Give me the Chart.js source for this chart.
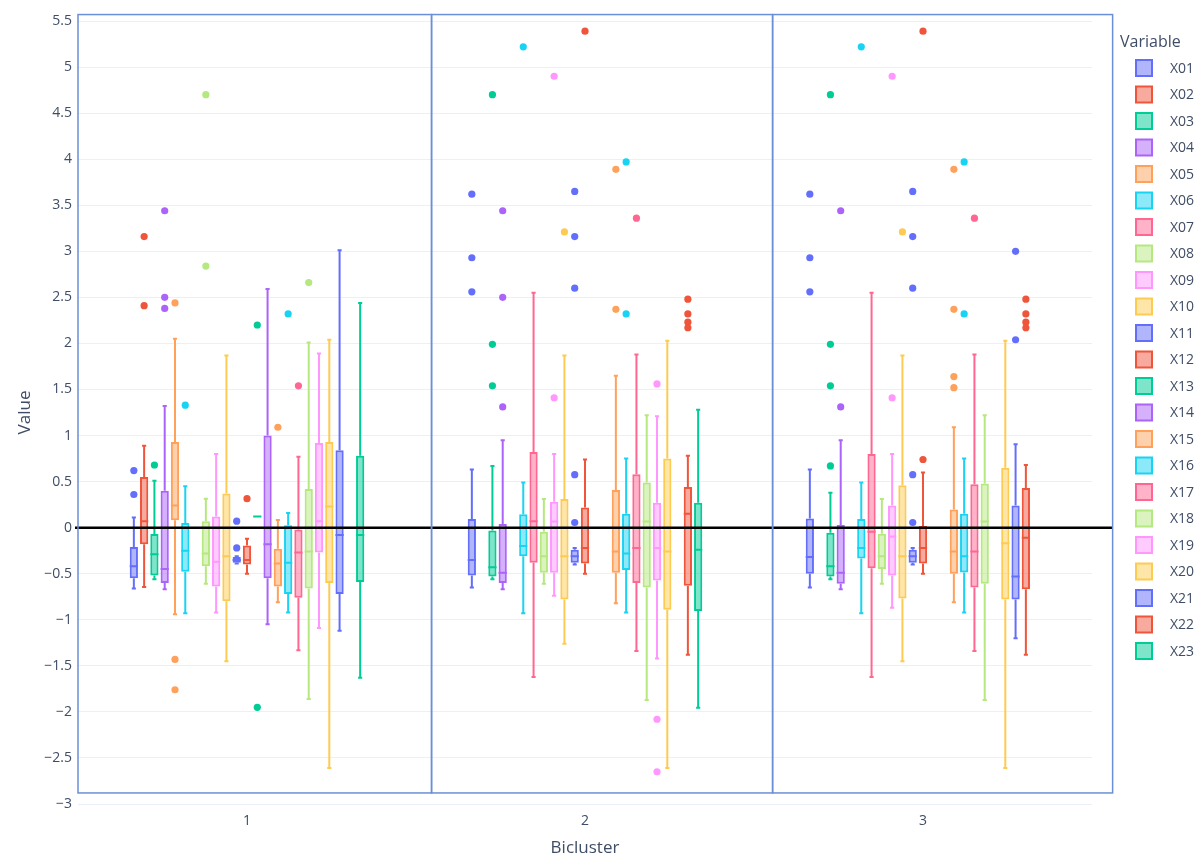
<!DOCTYPE html>
<html><head><meta charset="utf-8">
<script src="https://cdn.jsdelivr.net/npm/chart.js@4/dist/chart.umd.min.js"></script>
<style>html,body{margin:0;padding:0;background:#fff;}#wrap{width:1199px;height:859px;position:relative;}</style>
</head><body><div id="wrap"><canvas id="c" width="1199" height="859"></canvas></div>
<script>
const categories = ['1', '2', '3'];
const variables = ['X01','X02','X03','X04','X05','X06','X07','X08','X09','X10','X11','X12','X13','X14','X15','X16','X17','X18','X19','X20','X21','X22','X23'];
const palette = ['#636EFA','#EF553B','#00CC96','#AB63FA','#FFA15A','#19D3F3','#FF6692','#B6E880','#FF97FF','#FECB52'];
const yMin = -3, yMax = 5.5, yStep = 0.5;
const axisTitles = { x: 'Bicluster', y: 'Value', legend: 'Variable' };

// per variable: [lower whisker, q1, median, q3, upper whisker] for biclusters 1, 2, 3 (null = absent)
const X01 = [[-0.66,-0.55,-0.42,-0.21,0.11],[-0.65,-0.52,-0.35,0.095,0.63],[-0.65,-0.50,-0.32,0.10,0.63]];
const X02 = [[-0.645,-0.18,0.07,0.55,0.89],null,null];
const X03 = [[-0.56,-0.52,-0.29,-0.07,0.51],[-0.56,-0.53,-0.43,-0.03,0.67],[-0.56,-0.53,-0.42,-0.056,0.38]];
const X04 = [[-0.67,-0.60,-0.45,0.40,1.32],[-0.67,-0.60,-0.49,0.04,0.95],[-0.67,-0.61,-0.49,0.03,0.95]];
const X05 = [[-0.94,0.08,0.24,0.93,2.05],null,null];
const X06 = [[-0.93,-0.48,-0.25,0.05,0.45],[-0.93,-0.31,-0.20,0.145,0.49],[-0.93,-0.335,-0.22,0.095,0.49]];
const X07 = [null,[-1.62,-0.38,0.07,0.82,2.55],[-1.62,-0.44,-0.045,0.80,2.55]];
const X08 = [[-0.61,-0.42,-0.28,0.07,0.315],[-0.61,-0.49,-0.31,-0.045,0.31],[-0.61,-0.45,-0.31,-0.067,0.31]];
const X09 = [[-0.92,-0.64,-0.37,0.12,0.80],[-0.74,-0.49,0.067,0.28,0.80],[-0.87,-0.52,-0.095,0.24,0.80]];
const X10 = [[-1.45,-0.80,-0.31,0.37,1.87],[-1.26,-0.78,-0.31,0.31,1.87],[-1.45,-0.77,-0.31,0.46,1.87]];
const X11 = [[-0.39,-0.38,-0.35,-0.32,-0.31],[-0.40,-0.38,-0.31,-0.24,-0.22],[-0.40,-0.38,-0.31,-0.24,-0.22]];
const X12 = [[-0.50,-0.40,-0.35,-0.195,-0.12],[-0.50,-0.39,-0.22,0.22,0.74],[-0.50,-0.39,-0.22,0.017,0.60]];
const X13 = [[0.12,0.12,0.12,0.12,0.12],null,null];
const X14 = [[-1.05,-0.55,-0.18,1.00,2.59],null,null];
const X15 = [[-0.81,-0.64,-0.39,-0.23,0.084],[-0.82,-0.49,-0.26,0.41,1.65],[-0.81,-0.50,-0.26,0.196,1.09]];
const X16 = [[-0.92,-0.72,-0.38,0.026,0.16],[-0.92,-0.46,-0.28,0.15,0.75],[-0.92,-0.486,-0.31,0.15,0.75]];
const X17 = [[-1.33,-0.76,-0.27,-0.02,0.77],[-1.34,-0.60,-0.22,0.58,1.88],[-1.34,-0.65,-0.26,0.47,1.88]];
const X18 = [[-1.86,-0.66,-0.26,0.42,2.01],[-1.87,-0.65,0.067,0.49,1.22],[-1.87,-0.61,0.067,0.48,1.22]];
const X19 = [[-1.09,-0.27,0.07,0.92,1.89],[-1.42,-0.575,-0.22,0.27,1.21],null];
const X20 = [[-2.61,-0.60,0.23,0.93,2.04],[-2.61,-0.89,-0.26,0.75,2.03],[-2.61,-0.78,-0.17,0.65,2.03]];
const X21 = [[-1.12,-0.72,-0.08,0.84,3.01],null,[-1.20,-0.78,-0.53,0.24,0.905]];
const X22 = [null,[-1.38,-0.63,0.15,0.44,0.78],[-1.38,-0.67,-0.11,0.43,0.68]];
const X23 = [[-1.63,-0.59,-0.08,0.78,2.44],[-1.955,-0.905,-0.24,0.27,1.28],null];

// outliers per variable, per bicluster
const X01_out = [[0.62,0.36],[3.62,2.93,2.56],[3.62,2.93,2.56]];
const X02_out = [[3.16,2.41],[],[]];
const X03_out = [[0.68],[4.70,1.99,1.54],[4.70,1.99,1.54,0.67]];
const X04_out = [[3.44,2.50,2.38],[3.44,2.50,1.31],[3.44,1.31]];
const X05_out = [[2.44,-1.43,-1.76],[],[]];
const X06_out = [[1.33],[5.22],[5.22]];
const X07_out = [[],[],[]];
const X08_out = [[4.70,2.84],[],[]];
const X09_out = [[],[4.90,1.41],[4.90,1.41]];
const X10_out = [[],[3.21],[3.21]];
const X11_out = [[0.07,-0.22],[3.65,3.16,2.60,0.575,0.056],[3.65,3.16,2.60,0.575,0.056]];
const X12_out = [[0.315],[5.39],[5.39,0.74]];
const X13_out = [[2.20,-1.95],[],[]];
const X14_out = [[],[],[]];
const X15_out = [[1.09],[3.89,2.37],[3.89,2.37,1.64,1.52]];
const X16_out = [[2.32],[3.97,2.32],[3.97,2.32]];
const X17_out = [[1.54],[3.36],[3.36]];
const X18_out = [[2.66],[],[]];
const X19_out = [[],[1.56,-2.08,-2.65],[]];
const X20_out = [[],[],[]];
const X21_out = [[],[],[3.00,2.04]];
const X22_out = [[],[2.48,2.32,2.23,2.17],[2.48,2.32,2.23,2.17]];
const X23_out = [[],[],[]];

// panel frame boundaries (category units) and vertical extent (value units)
const frameX = [-0.5, 0.546, 1.555, 2.561];
const frameY = [-2.88, 5.57];
const refLineValue = 0;

const stats = [X01,X02,X03,X04,X05,X06,X07,X08,X09,X10,X11,X12,X13,X14,X15,X16,X17,X18,X19,X20,X21,X22,X23];
const outs = [X01_out,X02_out,X03_out,X04_out,X05_out,X06_out,X07_out,X08_out,X09_out,X10_out,X11_out,X12_out,X13_out,X14_out,X15_out,X16_out,X17_out,X18_out,X19_out,X20_out,X21_out,X22_out,X23_out];

const FONT = '"Open Sans", "Liberation Sans", sans-serif';
const TEXT = '#3f4d66';
function rgba(hex, a) {
  const n = parseInt(hex.slice(1), 16);
  return `rgba(${(n>>16)&255},${(n>>8)&255},${n&255},${a})`;
}
const colorOf = i => palette[i % palette.length];

const datasets = variables.map((v, i) => ({
  label: v,
  data: stats[i].map(s => s ? [s[1], s[3]] : null),
  stats: stats[i],
  outliers: outs[i],
  backgroundColor: rgba(colorOf(i), 0.5),
  borderColor: colorOf(i),
  borderWidth: 2,
  borderSkipped: false,
  barPercentage: 0.8,
  categoryPercentage: 0.7
}));

const boxPlugin = {
  id: 'boxExtras',
  afterDatasetsDraw(chart) {
    const ctx = chart.ctx, ys = chart.scales.y;
    const Y = v => ys.getPixelForValue(v);
    chart.data.datasets.forEach((ds, i) => {
      const meta = chart.getDatasetMeta(i);
      const col = colorOf(i);
      ctx.save();
      ctx.strokeStyle = col; ctx.fillStyle = col; ctx.lineWidth = 2; ctx.lineCap = 'butt';
      stats[i].forEach((s, j) => {
        const bar = meta.data[j];
        if (!bar) return;
        const x = bar.x, w = bar.width;
        if (s) {
          ctx.beginPath();
          ctx.moveTo(x, Y(s[3])); ctx.lineTo(x, Y(s[4]));
          ctx.moveTo(x, Y(s[1])); ctx.lineTo(x, Y(s[0]));
          ctx.moveTo(x - w/4, Y(s[4])); ctx.lineTo(x + w/4, Y(s[4]));
          ctx.moveTo(x - w/4, Y(s[0])); ctx.lineTo(x + w/4, Y(s[0]));
          ctx.moveTo(x - w/2, Y(s[2])); ctx.lineTo(x + w/2, Y(s[2]));
          ctx.stroke();
        }
        (ds.outliers[j] || []).forEach(v => {
          ctx.beginPath(); ctx.arc(x, Y(v), 3.6, 0, Math.PI*2); ctx.fill();
        });
      });
      ctx.restore();
    });
  },
  afterDraw(chart) {
    const ctx = chart.ctx, xs = chart.scales.x, ys = chart.scales.y, ca = chart.chartArea;
    ctx.save();
    // zero reference line
    const y0 = ys.getPixelForValue(refLineValue);
    ctx.strokeStyle = '#000'; ctx.lineWidth = 2.5;
    ctx.beginPath(); ctx.moveTo(ca.left - 3, y0); ctx.lineTo(xs.getPixelForValue(frameX[frameX.length-1]), y0); ctx.stroke();
    // panel frames
    ctx.strokeStyle = '#6b8fd6'; ctx.lineWidth = 1.5;
    const top = ys.getPixelForValue(frameY[1]), bot = ys.getPixelForValue(frameY[0]);
    for (let k = 0; k < frameX.length - 1; k++) {
      const l = xs.getPixelForValue(frameX[k]), r = xs.getPixelForValue(frameX[k+1]);
      ctx.strokeRect(l, top, r - l, bot - top);
    }
    // axis titles
    ctx.fillStyle = TEXT;
    ctx.font = `17px ${FONT}`;
    ctx.textAlign = 'center'; ctx.textBaseline = 'middle';
    ctx.fillText(axisTitles.x, (ca.left + ca.right) / 2, 848);
    ctx.save(); ctx.translate(25, (ca.top + ca.bottom) / 2); ctx.rotate(-Math.PI/2);
    ctx.fillText(axisTitles.y, 0, 0); ctx.restore();
    // legend
    ctx.textAlign = 'left';
    ctx.font = `16px ${FONT}`;
    ctx.fillText(axisTitles.legend, 1120, 42);
    ctx.font = `14px ${FONT}`;
    variables.forEach((v, i) => {
      const yy = 68 + i * 26.5;
      ctx.fillStyle = rgba(colorOf(i), 0.5);
      ctx.fillRect(1136, yy - 8, 16, 16);
      ctx.strokeStyle = colorOf(i); ctx.lineWidth = 2;
      ctx.strokeRect(1136, yy - 8, 16, 16);
      ctx.fillStyle = TEXT;
      ctx.fillText(v, 1170, yy + 1);
    });
    ctx.restore();
  }
};

new Chart(document.getElementById('c'), {
  type: 'bar',
  data: { labels: categories, datasets },
  options: {
    responsive: false,
    animation: false,
    events: [],
    layout: { padding: { top: 21, right: 107, left: 0, bottom: 0 } },
    plugins: { legend: { display: false }, tooltip: { enabled: false }, title: { display: false } },
    scales: {
      x: {
        grid: { display: false, drawTicks: false },
        border: { display: false },
        ticks: { font: { family: FONT, size: 14 }, color: TEXT, padding: 9 },
        afterFit: s => { s.height = 55; }
      },
      y: {
        min: yMin, max: yMax,
        grid: { color: '#ebf0f8', lineWidth: 1, drawTicks: false },
        border: { display: false },
        ticks: {
          stepSize: yStep, font: { family: FONT, size: 14 }, color: TEXT, padding: 6,
          callback: v => String(Math.round(v * 10) / 10).replace('-', '\u2212')
        },
        afterFit: s => { s.width = 78; }
      }
    }
  },
  plugins: [boxPlugin]
});
</script></body></html>
